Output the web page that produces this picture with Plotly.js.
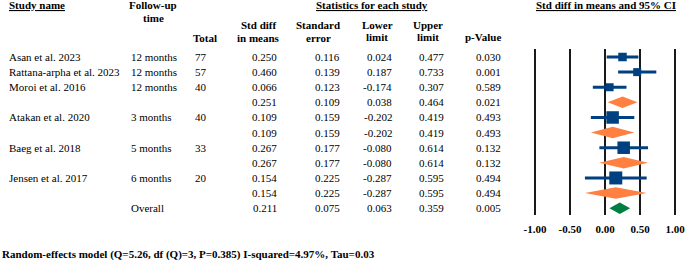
<!DOCTYPE html>
<html><head><meta charset="utf-8">
<script src="https://cdn.plot.ly/plotly-3.0.1.min.js"></script>
<style>html,body{margin:0;padding:0;background:#fff;overflow:hidden}#chart{width:685px;height:261px}</style>
</head><body><div id="chart"></div>
<script>
// ---------- data ----------
const studyNames = ["Asan et al. 2023","Rattana-arpha et al. 2023","Moroi et al. 2016","","Atakan et al. 2020","","Baeg et al. 2018","","Jensen et al. 2017","",""];
const followUp   = ["12 months","12 months","12 months","","3 months","","5 months","","6 months","","Overall"];
const totals     = ["77","57","40","","40","","33","","20","",""];
const rowType    = ["study","study","study","subtotal","study","subtotal","study","subtotal","study","subtotal","overall"];
const stdDiff    = [0.250,0.460,0.066,0.251,0.109,0.109,0.267,0.267,0.154,0.154,0.211];
const stdErr     = [0.116,0.139,0.123,0.109,0.159,0.159,0.177,0.177,0.225,0.225,0.075];
const lowerLim   = [0.024,0.187,-0.174,0.038,-0.202,-0.202,-0.080,-0.080,-0.287,-0.287,0.063];
const upperLim   = [0.477,0.733,0.307,0.464,0.419,0.419,0.614,0.614,0.595,0.595,0.359];
const pValue     = [0.030,0.001,0.589,0.021,0.493,0.493,0.132,0.132,0.494,0.494,0.005];
const axisTicks  = [-1,-0.5,0,0.5,1];
const axisTickText = ["-1.00","-0.50","0.00","0.50","1.00"];
const footerText = "Random-effects model (Q=5.26, df (Q)=3, P=0.385) I-squared=4.97%, Tau=0.03";

// ---------- styling / geometry ----------
const W=685, H=261, TOP=49, BOTTOM=215, ROW0=57, STEP=15.12, X0PX=605, UNIT=70;
const FONT = "Liberation Serif";
const BLUE="#003f80", ORANGE="#FF8040", GREEN="#008040";
const squarePx = [8.5,8,8,0,12.5,0,12.5,0,13,0,0];
const DIAMOND_HALF = 0.38;

const rows = studyNames.map((_,i)=>i);
const px2paperX = p => p/W;
const px2paperY = p => (BOTTOM-p)/(BOTTOM-TOP);

// studies
const sIdx = rows.filter(i=>rowType[i]==="study");
const studyTrace = {
  type:"scatter", mode:"markers", hoverinfo:"skip",
  x:sIdx.map(i=>stdDiff[i]), y:sIdx,
  marker:{symbol:"square", color:BLUE, opacity:1, size:sIdx.map(i=>squarePx[i]), line:{width:0}},
  error_x:{type:"data", symmetric:false,
    array:sIdx.map(i=>upperLim[i]-stdDiff[i]),
    arrayminus:sIdx.map(i=>stdDiff[i]-lowerLim[i]),
    thickness:3, width:0, color:BLUE}
};
function diamonds(type,color){
  const xs=[],ys=[];
  rows.filter(i=>rowType[i]===type).forEach(i=>{
    xs.push(lowerLim[i],stdDiff[i],upperLim[i],stdDiff[i],lowerLim[i],null);
    ys.push(i,i-DIAMOND_HALF,i,i+DIAMOND_HALF,i,null);
  });
  return {type:"scatter", mode:"lines", x:xs, y:ys, fill:"toself", fillcolor:color,
          line:{width:0,color:color}, hoverinfo:"skip", connectgaps:false};
}

// annotations
const ann=[];
function t(text,xpx,ypaper,anchor,bold,yref){
  ann.push({text: bold?("<b>"+text+"</b>"):text, x:px2paperX(xpx), xref:"paper",
    y:ypaper, yref:yref||"paper", xanchor:anchor, yanchor:"middle", showarrow:false,
    borderpad:0, font:{family:FONT,size:11,color:"#000"}});
}
// headers
t("<u>Study name</u>",8,px2paperY(5),"left",true);
t("Follow-up",153,px2paperY(5),"center",true);
t("time",153,px2paperY(18),"center",true);
t("<u>Statistics for each study</u>",372,px2paperY(5),"center",true);
t("<u>Std diff in means and 95% CI</u>",606,px2paperY(5),"center",true);
t("Total",205,px2paperY(38),"center",true);
t("Std diff",258,px2paperY(25),"center",true);
t("in means",258,px2paperY(38),"center",true);
t("Standard",318,px2paperY(25),"center",true);
t("error",318,px2paperY(38),"center",true);
t("Lower",377,px2paperY(25),"center",true);
t("limit",377,px2paperY(37),"center",true);
t("Upper",428,px2paperY(25),"center",true);
t("limit",428,px2paperY(37),"center",true);
t("p-Value",483,px2paperY(37),"center",true);
// rows
rows.forEach(i=>{
  if(studyNames[i]) t(studyNames[i],8,i,"left",false,"y");
  if(followUp[i]) t(followUp[i],130,i,"left",false,"y");
  if(totals[i]) t(totals[i],201,i,"center",false,"y");
  t(stdDiff[i].toFixed(3),278,i,"right",false,"y");
  t(stdErr[i].toFixed(3),341,i,"right",false,"y");
  t(lowerLim[i].toFixed(3),393,i,"right",false,"y");
  t(upperLim[i].toFixed(3),445,i,"right",false,"y");
  t(pValue[i].toFixed(3),502,i,"right",false,"y");
});
t(footerText,1,px2paperY(254),"left",true);

// vertical reference lines at the axis ticks
const shapes = axisTicks.map(v=>({type:"line", xref:"x", yref:"paper", x0:v, x1:v, y0:0, y1:1,
  line:{color:"#1a1a1a", width:2}, layer:"below"}));

const layout = {
  width:W, height:H, margin:{l:0,r:0,t:TOP,b:H-BOTTOM,pad:0},
  paper_bgcolor:"#fff", plot_bgcolor:"#fff", showlegend:false,
  font:{family:FONT,size:11,color:"#000"},
  xaxis:{range:[-X0PX/UNIT,(W-X0PX)/UNIT], tickmode:"array", tickvals:axisTicks, ticktext:axisTickText,
    showgrid:false, zeroline:false, showline:false, ticklabeloverflow:"allow",
    ticks:"", ticklabelstandoff:6, tickfont:{family:FONT,size:11,color:"#000",weight:"bold"}, fixedrange:true},
  yaxis:{range:[(BOTTOM-ROW0)/STEP,(TOP-ROW0)/STEP], showgrid:false, zeroline:false,
    showticklabels:false, ticks:"", showline:false, fixedrange:true},
  shapes:shapes,
  annotations:ann
};
Plotly.newPlot("chart",[diamonds("subtotal",ORANGE),diamonds("overall",GREEN),studyTrace],layout,{staticPlot:true,displayModeBar:false});
</script></body></html>
